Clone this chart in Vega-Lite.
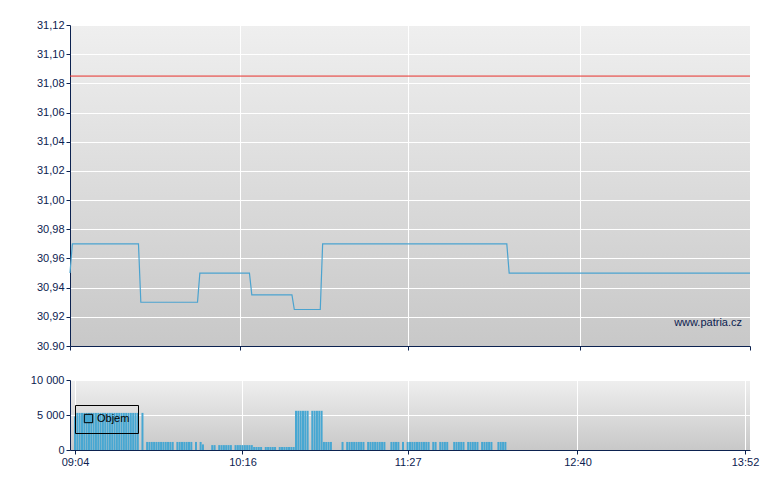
{
  "$schema": "https://vega.github.io/schema/vega-lite/v6.json",
  "padding": {"left": 30, "top": 19, "right": 10, "bottom": 5},
  "background": "white",
  "datasets": {
    "price": [
      {"t": "09:04", "p": 30.95}, {"t": "09:05", "p": 30.97}, {"t": "09:33", "p": 30.97},
      {"t": "09:34", "p": 30.93}, {"t": "09:58", "p": 30.93}, {"t": "09:59", "p": 30.95},
      {"t": "10:20", "p": 30.95}, {"t": "10:21", "p": 30.935}, {"t": "10:38", "p": 30.935},
      {"t": "10:39", "p": 30.925}, {"t": "10:50", "p": 30.925}, {"t": "10:51", "p": 30.97},
      {"t": "12:09", "p": 30.97}, {"t": "12:10", "p": 30.95}, {"t": "13:52", "p": 30.95}
    ],
    "vol": [
      {"t": "09:04", "v": 4800},
      {"t": "09:05", "v": 5300}, {"t": "09:06", "v": 5300}, {"t": "09:07", "v": 5300}, {"t": "09:08", "v": 5300},
      {"t": "09:09", "v": 5300}, {"t": "09:10", "v": 5300}, {"t": "09:11", "v": 5300}, {"t": "09:12", "v": 5300},
      {"t": "09:13", "v": 5300}, {"t": "09:14", "v": 5300}, {"t": "09:15", "v": 5300}, {"t": "09:16", "v": 5300},
      {"t": "09:17", "v": 5300}, {"t": "09:18", "v": 5300}, {"t": "09:19", "v": 5300}, {"t": "09:20", "v": 5300},
      {"t": "09:21", "v": 5300}, {"t": "09:22", "v": 5300}, {"t": "09:23", "v": 5300}, {"t": "09:24", "v": 5300},
      {"t": "09:25", "v": 5300}, {"t": "09:26", "v": 5300}, {"t": "09:27", "v": 5300}, {"t": "09:28", "v": 5300},
      {"t": "09:29", "v": 5300}, {"t": "09:30", "v": 5300}, {"t": "09:31", "v": 5300}, {"t": "09:33", "v": 5300},
      {"t": "09:35", "v": 1150}, {"t": "09:36", "v": 1150}, {"t": "09:37", "v": 1150}, {"t": "09:38", "v": 1150},
      {"t": "09:39", "v": 1150}, {"t": "09:40", "v": 1150}, {"t": "09:41", "v": 1150}, {"t": "09:42", "v": 1150},
      {"t": "09:43", "v": 1150}, {"t": "09:44", "v": 1150}, {"t": "09:45", "v": 1150}, {"t": "09:46", "v": 1150},
      {"t": "09:48", "v": 1150}, {"t": "09:49", "v": 1150}, {"t": "09:50", "v": 1150}, {"t": "09:51", "v": 1150},
      {"t": "09:52", "v": 1150}, {"t": "09:53", "v": 1150}, {"t": "09:54", "v": 1150}, {"t": "09:56", "v": 1150},
      {"t": "09:58", "v": 1150}, {"t": "09:59", "v": 800},
      {"t": "10:03", "v": 700}, {"t": "10:04", "v": 700}, {"t": "10:06", "v": 700}, {"t": "10:07", "v": 700},
      {"t": "10:08", "v": 700}, {"t": "10:09", "v": 700}, {"t": "10:10", "v": 700}, {"t": "10:11", "v": 700},
      {"t": "10:13", "v": 700}, {"t": "10:14", "v": 700}, {"t": "10:15", "v": 700}, {"t": "10:16", "v": 700},
      {"t": "10:17", "v": 700}, {"t": "10:18", "v": 700}, {"t": "10:19", "v": 700}, {"t": "10:20", "v": 700},
      {"t": "10:21", "v": 430}, {"t": "10:22", "v": 430}, {"t": "10:23", "v": 430}, {"t": "10:24", "v": 430},
      {"t": "10:26", "v": 430}, {"t": "10:27", "v": 430}, {"t": "10:28", "v": 430}, {"t": "10:29", "v": 430},
      {"t": "10:30", "v": 430}, {"t": "10:32", "v": 430}, {"t": "10:33", "v": 430}, {"t": "10:34", "v": 430},
      {"t": "10:35", "v": 430}, {"t": "10:36", "v": 430}, {"t": "10:37", "v": 430}, {"t": "10:38", "v": 430},
      {"t": "10:39", "v": 5600}, {"t": "10:40", "v": 5600}, {"t": "10:41", "v": 5600}, {"t": "10:42", "v": 5600},
      {"t": "10:43", "v": 5600}, {"t": "10:44", "v": 5600}, {"t": "10:46", "v": 5600}, {"t": "10:47", "v": 5600},
      {"t": "10:48", "v": 5600}, {"t": "10:49", "v": 5600}, {"t": "10:50", "v": 5600},
      {"t": "10:51", "v": 1150}, {"t": "10:52", "v": 1150}, {"t": "10:53", "v": 1150}, {"t": "10:54", "v": 1150},
      {"t": "10:59", "v": 1150}, {"t": "11:01", "v": 1150}, {"t": "11:02", "v": 1150}, {"t": "11:03", "v": 1150},
      {"t": "11:04", "v": 1150}, {"t": "11:05", "v": 1150}, {"t": "11:06", "v": 1150}, {"t": "11:07", "v": 1150},
      {"t": "11:08", "v": 1150}, {"t": "11:10", "v": 1150}, {"t": "11:11", "v": 1150}, {"t": "11:12", "v": 1150},
      {"t": "11:13", "v": 1150}, {"t": "11:14", "v": 1150}, {"t": "11:15", "v": 1150}, {"t": "11:16", "v": 1150},
      {"t": "11:17", "v": 1150}, {"t": "11:20", "v": 1150}, {"t": "11:21", "v": 1150}, {"t": "11:22", "v": 1150},
      {"t": "11:23", "v": 1150}, {"t": "11:25", "v": 1150}, {"t": "11:27", "v": 1150}, {"t": "11:28", "v": 1150},
      {"t": "11:29", "v": 1150}, {"t": "11:30", "v": 1150}, {"t": "11:31", "v": 1150}, {"t": "11:32", "v": 1150},
      {"t": "11:33", "v": 1150}, {"t": "11:34", "v": 1150}, {"t": "11:35", "v": 1150}, {"t": "11:36", "v": 1150},
      {"t": "11:38", "v": 1150}, {"t": "11:39", "v": 1150}, {"t": "11:41", "v": 1150}, {"t": "11:42", "v": 1150},
      {"t": "11:43", "v": 1150}, {"t": "11:44", "v": 1150}, {"t": "11:47", "v": 1150}, {"t": "11:48", "v": 1150},
      {"t": "11:49", "v": 1150}, {"t": "11:50", "v": 1150}, {"t": "11:51", "v": 1150}, {"t": "11:53", "v": 1150},
      {"t": "11:54", "v": 1150}, {"t": "11:55", "v": 1150}, {"t": "11:56", "v": 1150}, {"t": "11:57", "v": 1150},
      {"t": "11:59", "v": 1150}, {"t": "12:00", "v": 1150}, {"t": "12:01", "v": 1150}, {"t": "12:02", "v": 1150},
      {"t": "12:03", "v": 1150}, {"t": "12:06", "v": 1150}, {"t": "12:07", "v": 1150}, {"t": "12:08", "v": 1150},
      {"t": "12:09", "v": 1150}
    ],
    "one": [{"label": "www.patria.cz"}]
  },
  "spacing": 23,
  "vconcat": [
    {
      "width": 680,
      "height": 321,
      "layer": [
        {
          "data": {"name": "price", "format": {"parse": {"t": "date:'%H:%M'"}}},
          "mark": {"type": "line", "color": "#4ba3cf", "strokeWidth": 1.2},
          "encoding": {
            "x": {
              "field": "t", "type": "temporal",
              "scale": {"domain": [
                {"year": 1900, "month": 1, "date": 1, "hours": 9, "minutes": 4},
                {"year": 1900, "month": 1, "date": 1, "hours": 13, "minutes": 52}
              ]},
              "axis": {
                "labels": false,
                "tickCount": 10,
                "values": [
                  {"year": 1900, "month": 1, "date": 1, "hours": 9, "minutes": 4},
                  {"year": 1900, "month": 1, "date": 1, "hours": 10, "minutes": 16},
                  {"year": 1900, "month": 1, "date": 1, "hours": 11, "minutes": 27},
                  {"year": 1900, "month": 1, "date": 1, "hours": 12, "minutes": 40},
                  {"year": 1900, "month": 1, "date": 1, "hours": 13, "minutes": 52}
                ]
              }
            },
            "y": {
              "field": "p", "type": "quantitative",
              "scale": {"domain": [30.9, 31.12], "nice": false, "zero": false},
              "axis": {
                "values": [30.9, 30.92, 30.94, 30.96, 30.98, 31.0, 31.02, 31.04, 31.06, 31.08, 31.1, 31.12],
                "tickCount": 20,
                "labelOverlap": false,
                "labelExpr": "datum.value < 30.91 ? '30.90' : replace(format(datum.value, '.2f'), '.', ',')",
                "minExtent": 40, "maxExtent": 40
              }
            }
          }
        },
        {
          "data": {"name": "one"},
          "mark": {"type": "rule", "color": "#e8302c", "strokeWidth": 1},
          "encoding": {"y": {"datum": 31.085}}
        },
        {
          "data": {"name": "one"},
          "mark": {"type": "text", "align": "right", "baseline": "middle", "font": "Liberation Sans", "fontSize": 11, "color": "#0c2250", "dx": -8},
          "encoding": {
            "x": {"datum": {"year": 1900, "month": 1, "date": 1, "hours": 13, "minutes": 52}, "type": "temporal"},
            "y": {"datum": 30.9158},
            "text": {"field": "label"}
          }
        }
      ]
    },
    {
      "width": 680,
      "height": 70,
      "data": {"name": "vol", "format": {"parse": {"t": "date:'%H:%M'"}}},
      "mark": {"type": "bar", "width": 2},
      "encoding": {
        "x": {
          "field": "t", "type": "temporal",
          "scale": {"domain": [
            {"year": 1900, "month": 1, "date": 1, "hours": 9, "minutes": 4},
            {"year": 1900, "month": 1, "date": 1, "hours": 13, "minutes": 52}
          ]},
          "axis": {
            "format": "%H:%M",
            "labelFlush": false,
            "tickCount": 10,
            "values": [
              {"year": 1900, "month": 1, "date": 1, "hours": 9, "minutes": 4},
              {"year": 1900, "month": 1, "date": 1, "hours": 10, "minutes": 16},
              {"year": 1900, "month": 1, "date": 1, "hours": 11, "minutes": 27},
              {"year": 1900, "month": 1, "date": 1, "hours": 12, "minutes": 40},
              {"year": 1900, "month": 1, "date": 1, "hours": 13, "minutes": 52}
            ]
          }
        },
        "y": {
          "field": "v", "type": "quantitative",
          "scale": {"domain": [0, 10000], "nice": false},
          "axis": {
            "values": [0, 5000, 10000],
            "tickCount": 5,
            "labelOverlap": false,
            "labelExpr": "replace(format(datum.value, ','), ',', ' ')",
            "minExtent": 40, "maxExtent": 40
          }
        },
        "color": {
          "datum": "Objem",
          "scale": {"range": ["#47a7d2"]},
          "legend": {
            "orient": "none", "legendX": 5, "legendY": 380, "title": null,
            "strokeColor": "black", "padding": 8, "symbolType": "square", "symbolSize": 70,
            "symbolStrokeColor": "black", "symbolStrokeWidth": 1,
            "labelFont": "Liberation Sans", "labelFontSize": 11, "labelColor": "black", "labelOffset": 3
          }
        }
      }
    }
  ],
  "config": {
    "view": {
      "stroke": null,
      "fill": {"gradient": "linear", "x1": 0, "y1": 0, "x2": 0, "y2": 1,
        "stops": [{"offset": 0, "color": "#efefef"}, {"offset": 1, "color": "#c8c8c8"}]}
    },
    "axis": {
      "title": null,
      "labelFont": "Liberation Sans", "labelFontSize": 11, "labelColor": "#0c2250",
      "domainColor": "#0c2250", "tickColor": "#0c2250", "tickSize": 4, "labelPadding": 2,
      "gridColor": "white", "gridOpacity": 1, "gridWidth": 1, "grid": true, "domainWidth": 1
    }
  }
}
